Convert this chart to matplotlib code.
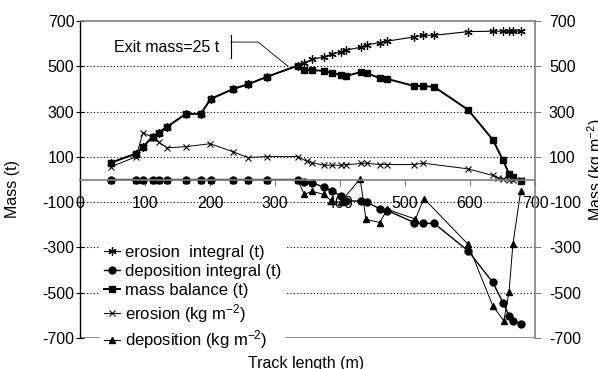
import matplotlib
matplotlib.use('Agg')
from matplotlib import pyplot as plt

plt.rcParams['font.family'] = ['Liberation Sans', 'DejaVu Sans']
plt.rcParams['mathtext.fontset'] = 'custom'
plt.rcParams['mathtext.rm'] = 'Liberation Sans'
plt.rcParams['mathtext.default'] = 'regular'
plt.rcParams['axes.unicode_minus'] = False
plt.rcParams['font.size'] = 11.5

# track positions (m) shared by the integral series
track = [48, 86, 97, 112, 121, 134, 163, 186, 201, 236, 259, 287, 335, 345,
         357, 375, 388, 401, 409, 433, 441, 461, 473, 514, 528, 545, 597, 635,
         651, 660, 666, 678]

mass_balance = [75, 114, 145, 189, 207, 233, 290, 290, 356, 400, 421, 453,
                503, 484, 484, 479, 471, 462, 457, 475, 470, 448, 444, 413,
                413, 409, 308, 176, 84, 26, 9, -8]

erosion_integral = [75, 114, 145, 189, 207, 233, 290, 290, 356, 400, 421, 453,
                    503, 516, 530, 542, 554, 564, 571, 585, 595, 604, 611, 630,
                    637, 637, 653, 655, 655, 655, 655, 655]

deposition_integral = [0, 0, 0, 0, 0, 0, 0, 0, 0, 0, 0, 0,
                       0, -9, -15, -33, -50, -73, -95, -95, -100, -129, -137,
                       -190, -194, -194, -315, -454, -545, -601, -625, -637]

# erosion (kg m-2)
erosion_x = [48, 86, 97, 112, 121, 134, 163, 200, 235, 258, 287, 335, 349,
             357, 375, 388, 401, 409, 433, 441, 461, 473, 514, 528, 597, 635,
             643, 651, 660, 666, 678]
erosion = [57, 100, 207, 185, 165, 140, 145, 158, 123, 97, 101, 101, 80,
           74, 63, 63, 63, 65, 71, 72, 66, 66, 66, 72, 47, 18, 8, 3, 0, 0, 0]

# deposition (kg m-2)
deposition_x = [48, 86, 97, 112, 121, 134, 163, 186, 201, 236, 259, 287, 335,
                345, 357, 375, 388, 401, 431, 440, 461, 473, 516, 529, 597,
                635, 652, 660, 666, 678]
deposition = [0, 0, 0, 0, 0, 0, 0, 0, 0, 0, 0, 0, 0,
              -66, -52, -66, -97, -100, 3, -176, -190, -132, -175, -84, -286,
              -558, -624, -497, -286, -51]

y_ticks = [700, 500, 300, 100, -100, -300, -500, -700]
x_ticks = [0, 100, 200, 300, 400, 500, 600, 700]

# callout for the exit mass note
note_text = 'Exit mass=25 t'
note_pos = (134, 585)
note_bar_x = [232, 232]
note_bar_y = [637, 536]
note_line_x = [232, 274, 320]
note_line_y = [607, 607, 500]

grey = '#808080'

fig = plt.figure(figsize=(5.98, 3.69), dpi=100)
ax = fig.add_axes([80 / 598, 1 - 338 / 369, 455 / 598, 317 / 369])

for v in [500, 300, 100, -100, -300, -500]:
    ax.axhline(v, color='black', lw=0.8, ls=(0, (1, 2)), zorder=0)
ax.axhline(-700, color=grey, lw=1.2, zorder=0.5)

asterisk = (6, 2, 0)
ax.plot(track, erosion_integral, color='black', lw=0.8, marker=asterisk,
        ms=6, mew=0.9, label='erosion  integral (t)')
ax.plot(track, deposition_integral, color='black', lw=1.0, marker='o',
        ms=5, label='deposition integral (t)')
ax.plot(track, mass_balance, color='black', lw=1.4, marker='s',
        ms=5, label='mass balance (t)')
ax.plot(erosion_x, erosion, color='black', lw=0.7, marker='x',
        ms=5, mew=0.8, label='erosion (kg m$^{-2}$)')
ax.plot(deposition_x, deposition, color='black', lw=0.7, marker='^',
        ms=5, label='deposition (kg m$^{-2}$)')

ax.text(note_pos[0], note_pos[1], note_text, ha='center', va='center',
        fontsize=11.5)
ax.plot(note_bar_x, note_bar_y, color='black', lw=0.8)
ax.plot(note_line_x, note_line_y, color='black', lw=0.6)

ax.set_xlim(0, 700)
ax.set_ylim(-700, 700)
ax.set_xticks(x_ticks)
ax.set_yticks(y_ticks)

ax.spines['bottom'].set_position(('data', 0))
ax.spines['bottom'].set_color(grey)
ax.spines['bottom'].set_linewidth(1.2)
ax.spines['top'].set_color(grey)
ax.spines['top'].set_linewidth(1.2)
ax.spines['right'].set_color(grey)
ax.spines['right'].set_linewidth(1.2)
ax.spines['left'].set_color('black')
ax.spines['left'].set_linewidth(1.0)

ax.tick_params(axis='x', direction='out', length=4, color=grey, pad=8,
               labelsize=11.5)
ax.tick_params(axis='y', direction='inout', length=6, pad=1, labelsize=11.5)

ax2 = ax.twinx()
ax2.set_ylim(-700, 700)
ax2.set_yticks(y_ticks)
ax2.tick_params(axis='y', direction='out', length=4, color=grey, pad=6,
                labelsize=11.5)
for s in ax2.spines.values():
    s.set_visible(False)
ax2.set_ylabel('Mass (kg m$^{-2}$)', fontsize=11.5)
ax2.yaxis.set_label_coords(1.11, 0.53)

ax.set_ylabel('Mass (t)', fontsize=11.5)
ax.yaxis.set_label_coords(-0.132, 0.47)
ax.set_xlabel('Track length (m)', fontsize=11.5)
ax.xaxis.set_label_coords(0.497, -0.057)

leg = ax.legend(loc='upper left', bbox_to_anchor=(0.045, 0.305),
                borderaxespad=0, borderpad=0.2, frameon=True, fancybox=False,
                edgecolor='none', facecolor='white', framealpha=1,
                handlelength=1.0, handletextpad=0.3, labelspacing=0.24,
                fontsize=12)
leg.set_zorder(1.5)

fig.savefig('out.png', dpi=100)
